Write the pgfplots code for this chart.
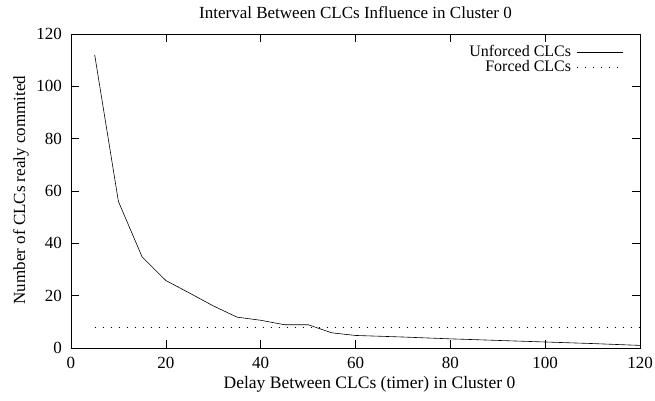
\documentclass[border=0pt]{standalone}
\usepackage{pgfplots}
\pgfplotsset{compat=1.18}
\usepackage{fontspec}
\setmainfont{Liberation Serif}
\begin{document}
\begin{tikzpicture}
\begin{axis}[
  at={(0pt,0pt)}, anchor=south west,
  scale only axis,
  width=569pt, height=314pt,
  xmin=0, xmax=120, ymin=0, ymax=120,
  xtick={0,20,...,120}, ytick={0,20,...,120},
  tick align=inside,
  major tick length=8pt,
  minor tick num=0,
  /pgf/number format/assume math mode=true,
  tick label style={font=\fontsize{17}{19}\selectfont, inner sep=0pt},
  xticklabel style={anchor=base, yshift=-20pt},
  yticklabel style={anchor=east, xshift=-9pt},
  title style={font=\fontsize{17}{19}\selectfont, at={(axis description cs:0.5,1.0318)}, anchor=base, yshift=0pt, inner sep=0pt},
  title={Interval Between CLCs Influence in Cluster 0},
  xlabel style={font=\fontsize{17.5}{19}\selectfont, at={(axis description cs:0.5246,-0.1274)}, anchor=base, inner sep=0pt},
  ylabel style={font=\fontsize{17}{19}\selectfont, at={(axis description cs:-0.0808,0.503)}, anchor=base, inner sep=0pt},
  xlabel={Delay Between CLCs (timer) in Cluster 0},
  ylabel={Number of CLCs realy commited},
  axis line style={line width=0.6pt},
  every tick/.style={black, line width=0.6pt},
  legend style={draw=none, fill=none, at={(0.9719,0.965)}, anchor=north east,
    font=\fontsize{16}{15}\selectfont, legend cell align=right, row sep=0pt,
    inner sep=0pt, column sep=6pt,
    nodes={inner sep=0pt, text height=11pt, text depth=4pt}},
  legend plot pos=right,
  legend image code/.code={\draw[#1] plot coordinates {(0pt,0pt) (23pt,0pt) (46pt,0pt)};},
]
\addplot[black, line width=0.6pt] coordinates {
(5,112) (10,56) (15,34.8) (20,25.8) (25,21) (30,16.1) (35,11.8) (40,10.6) (45,8.9) (50,8.9) (55,5.8) (60,4.8) (70,4.2) (80,3.5) (90,2.9) (100,2.3) (110,1.7) (120,1)
};
\addlegendentry{Unforced CLCs}
\addplot[black, line width=0.7pt, dash pattern=on 0.7pt off 7.3pt] coordinates {
(5,8) (120,8)
};
\addlegendentry{Forced CLCs}
\end{axis}
\pgfresetboundingbox
\useasboundingbox (-71pt,-52pt) rectangle (584pt,348pt);
\end{tikzpicture}
\end{document}
